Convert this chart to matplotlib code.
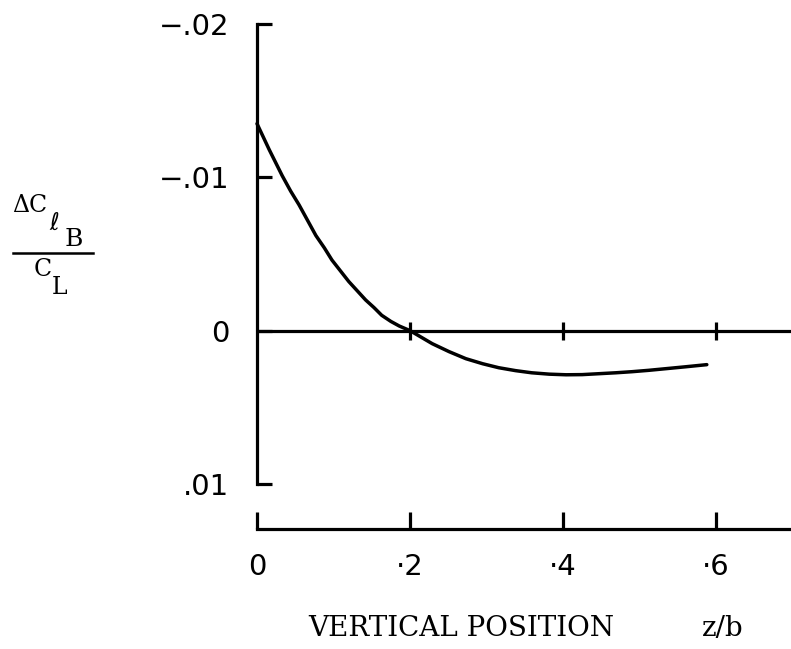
import matplotlib
matplotlib.use("Agg")
import matplotlib.pyplot as plt
from matplotlib.lines import Line2D

# Rolling-moment increment ratio vs. vertical position
z_pos = [0.0, 0.016, 0.033, 0.044, 0.055, 0.066, 0.077, 0.088, 0.098, 0.109,
         0.120, 0.131, 0.142, 0.153, 0.163, 0.175, 0.186, 0.200,
         0.229, 0.251, 0.273, 0.295, 0.316, 0.338, 0.359, 0.382, 0.404,
         0.425, 0.447, 0.469, 0.490, 0.512, 0.535, 0.560, 0.588]
dcl_ratio = [-0.0135, -0.0118, -0.0101, -0.0091, -0.0082, -0.0072, -0.0062,
             -0.0054, -0.0046, -0.0039, -0.0032, -0.0026, -0.0020, -0.0015,
             -0.0010, -0.0006, -0.0003, 0.0,
             0.00085, 0.00137, 0.00183, 0.00216, 0.00242, 0.00261, 0.00275,
             0.00284, 0.00288, 0.00287, 0.00281, 0.00275, 0.00268, 0.00259,
             0.00248, 0.00236, 0.00222]

x_ticks = [0.0, 0.2, 0.4, 0.6]
x_tick_labels = ["0", "·2", "·4", "·6"]
y_ticks = [-0.02, -0.01, 0.0, 0.01]
y_tick_labels = ["\u2212.02", "\u2212.01", "0", ".01"]

W, H = 791, 649
fig = plt.figure(figsize=(W / 100, H / 100), dpi=100)
fig.patch.set_facecolor("white")

def fx(px):
    return px / W

def fy(py):
    return 1 - py / H

ax_left, ax_top, ax_bottom = 257, 24, 529
ax = fig.add_axes([fx(ax_left), fy(ax_bottom), 1 - fx(ax_left), fy(ax_top) - fy(ax_bottom)])

lw = 2.3
ax.set_xlim(0, (W - ax_left) / 765)
ax.set_ylim(0.01294, -0.02)

for s in ("top", "right"):
    ax.spines[s].set_visible(False)
ax.spines["left"].set_bounds(y_ticks[0], y_ticks[-1])
for s in ("left", "bottom"):
    ax.spines[s].set_linewidth(lw)
    ax.spines[s].set_color("black")

ax.set_xticks(x_ticks)
ax.set_xticklabels(x_tick_labels)
ax.set_yticks(y_ticks)
ax.set_yticklabels(y_tick_labels)
ax.tick_params(axis="x", direction="in", length=12, width=lw, pad=17,
               labelsize=21, colors="black")
ax.tick_params(axis="y", direction="in", length=11, width=lw, pad=20,
               labelsize=21, colors="black")

# zero reference line with its own tick marks
ax.axhline(0, color="black", lw=lw, zorder=2)
ax.plot(x_ticks[1:], [0] * (len(x_ticks) - 1), ls="none", marker="|",
        markersize=13, mew=lw, color="black", zorder=2)

ax.plot(z_pos, dcl_ratio, color="black", lw=2.5, zorder=3, clip_on=False,
        solid_joinstyle="round", solid_capstyle="round")

# y-axis label drawn as a stacked fraction
serif = ["DejaVu Serif", "DejaVu Sans"]
fig.text(fx(12), fy(206), "\u0394C", fontsize=17, family=serif, va="center", ha="left")
fig.text(fx(49), fy(223), r"$\ell$", fontsize=17, va="center", ha="left")
fig.text(fx(65), fy(239), "B", fontsize=18, family=serif, va="center", ha="left")
fig.add_artist(Line2D([fx(13), fx(93)], [fy(253), fy(253)], color="black", lw=1.8))
fig.text(fx(34), fy(270), "C", fontsize=17, family=serif, va="center", ha="left")
fig.text(fx(52), fy(287), "L", fontsize=17, family=serif, va="center", ha="left")

fig.text(fx(308), fy(628), "VERTICAL POSITION", fontsize=20, family=serif,
         va="center", ha="left")
fig.text(fx(702), fy(628), "z/b", fontsize=20, family=serif,
         va="center", ha="left")

fig.savefig("out.png", dpi=100, facecolor="white")
